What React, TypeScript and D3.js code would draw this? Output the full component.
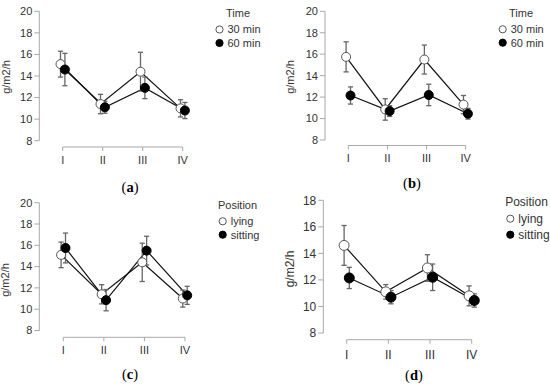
import * as d3 from 'd3';

const stages = ['I', 'II', 'III', 'IV'];
const timeNames = ['30 min', '60 min'];
const positionNames = ['lying', 'sitting'];

// panel (a): Time
const aMin30 = [15.1, 11.4, 14.4, 11.0];
const aMin30Err = [1.2, 0.9, 1.8, 0.8];
const aMin60 = [14.6, 11.1, 12.9, 10.8];
const aMin60Err = [1.5, 0.55, 1.0, 0.75];

// panel (b): Time
const bMin30 = [15.75, 10.85, 15.5, 11.3];
const bMin30Err = [1.4, 1.0, 1.35, 0.85];
const bMin60 = [12.15, 10.7, 12.2, 10.45];
const bMin60Err = [0.8, 0.5, 1.0, 0.5];

// panel (c): Position
const cLying = [15.1, 11.4, 14.4, 11.0];
const cLyingErr = [1.2, 0.9, 1.8, 0.8];
const cSitting = [15.75, 10.85, 15.5, 11.3];
const cSittingErr = [1.4, 1.0, 1.35, 0.85];

// panel (d): Position
const dLying = [14.6, 11.1, 12.9, 10.8];
const dLyingErr = [1.5, 0.55, 1.0, 0.75];
const dSitting = [12.15, 10.7, 12.2, 10.45];
const dSittingErr = [0.8, 0.5, 1.0, 0.5];

const yTicksFull = [8, 10, 12, 14, 16, 18, 20];
const yTicksShort = [8, 10, 12, 14, 16, 18];

type Layout = {
  axisX: number; xFirst: number; xLast: number;
  yTop: number; yBot: number; xAxisY: number; labelY: number;
  capX: number; capY: number; yLabX: number; yLabY: number;
  legX: number; legTitleX: number; legTitleY: number; legY1: number; legY2: number;
  dodge: number; r: number; font: number;
};

type Panel = {
  id: string;
  legendTitle: string;
  names: string[];
  series: { mean: number[]; err: number[]; filled: boolean }[];
  yDomain: [number, number];
  yTicks: number[];
  lay: Layout;
};

const panels: Panel[] = [
  {
    id: 'a', legendTitle: 'Time', names: timeNames,
    series: [
      { mean: aMin30, err: aMin30Err, filled: false },
      { mean: aMin60, err: aMin60Err, filled: true },
    ],
    yDomain: [8, 20], yTicks: yTicksFull,
    lay: {
      axisX: 39.3, xFirst: 62.7, xLast: 182.7, yTop: 11.3, yBot: 140.7, xAxisY: 147, labelY: 160,
      capX: 130, capY: 186.5, yLabX: 6, yLabY: 77,
      legX: 219.5, legTitleX: 238, legTitleY: 13, legY1: 29.5, legY2: 43,
      dodge: 2.2, r: 4.5, font: 11,
    },
  },
  {
    id: 'b', legendTitle: 'Time', names: timeNames,
    series: [
      { mean: bMin30, err: bMin30Err, filled: false },
      { mean: bMin60, err: bMin60Err, filled: true },
    ],
    yDomain: [8, 20], yTicks: yTicksFull,
    lay: {
      axisX: 325, xFirst: 348.3, xLast: 465.7, yTop: 11.3, yBot: 140, xAxisY: 145.5, labelY: 158,
      capX: 412, capY: 183, yLabX: 290, yLabY: 77,
      legX: 502.7, legTitleX: 521, legTitleY: 13, legY1: 29.3, legY2: 42.7,
      dodge: 2.2, r: 4.5, font: 11,
    },
  },
  {
    id: 'c', legendTitle: 'Position', names: positionNames,
    series: [
      { mean: cLying, err: cLyingErr, filled: false },
      { mean: cSitting, err: cSittingErr, filled: true },
    ],
    yDomain: [8, 20], yTicks: yTicksFull,
    lay: {
      axisX: 39.3, xFirst: 63.3, xLast: 185, yTop: 202.7, yBot: 330.5, xAxisY: 337.3, labelY: 350,
      capX: 130, capY: 373.5, yLabX: 5, yLabY: 280,
      legX: 222.7, legTitleX: 237.5, legTitleY: 205.3, legY1: 221.3, legY2: 234.7,
      dodge: 2.2, r: 4.5, font: 11,
    },
  },
  {
    id: 'd', legendTitle: 'Position', names: positionNames,
    series: [
      { mean: dLying, err: dLyingErr, filled: false },
      { mean: dSitting, err: dSittingErr, filled: true },
    ],
    yDomain: [8, 18], yTicks: yTicksShort,
    lay: {
      axisX: 323.3, xFirst: 346.7, xLast: 471.7, yTop: 200.3, yBot: 333, xAxisY: 339.7, labelY: 355,
      capX: 414, capY: 375, yLabX: 290, yLabY: 269,
      legX: 510.3, legTitleX: 526.5, legTitleY: 202, legY1: 218.7, legY2: 234.7,
      dodge: 2.6, r: 5, font: 12,
    },
  },
];

const axisColor = '#a8a8a8';
const textColor = '#333';
const barColor = '#666';
const sans = '"Liberation Sans", Arial, sans-serif';
const serif = '"Liberation Serif", "Times New Roman", serif';

const PanelView = ({ p }: { p: Panel }) => {
  const L = p.lay;
  const x = d3.scalePoint<string>().domain(stages).range([L.xFirst, L.xLast]);
  const y = d3.scaleLinear().domain(p.yDomain).range([L.yBot, L.yTop]);
  const line = d3.line<[number, number]>().x((d) => d[0]).y((d) => d[1]);
  const offsets = [-L.dodge, L.dodge];
  const cap = 2.6;

  return (
    <g>
      {/* y axis */}
      <line x1={L.axisX} x2={L.axisX} y1={y(p.yDomain[0])} y2={y(p.yDomain[1])} stroke={axisColor} />
      {p.yTicks.map((t) => (
        <g key={t}>
          <line x1={L.axisX - 5} x2={L.axisX} y1={y(t)} y2={y(t)} stroke={axisColor} />
          <text x={L.axisX - 7} y={y(t)} dy="0.35em" textAnchor="end" fontSize={L.font} fill={textColor}>{t}</text>
        </g>
      ))}
      <text transform={`translate(${L.yLabX},${L.yLabY}) rotate(-90)`} textAnchor="middle" dy="0.35em"
        fontSize={L.font} fill={textColor}>g/m2/h</text>

      {/* x axis */}
      <line x1={x(stages[0])!} x2={x(stages[stages.length - 1])!} y1={L.xAxisY} y2={L.xAxisY} stroke={axisColor} />
      {stages.map((s) => (
        <g key={s}>
          <line x1={x(s)!} x2={x(s)!} y1={L.xAxisY} y2={L.xAxisY + 4} stroke={axisColor} />
          <text x={x(s)!} y={L.labelY} dy="0.35em" textAnchor="middle" fontSize={L.font} fill={textColor}>{s}</text>
        </g>
      ))}

      {/* lines */}
      {p.series.map((s, si) => (
        <path key={si}
          d={line(s.mean.map((v, i) => [x(stages[i])! + offsets[si], y(v)] as [number, number]))!}
          fill="none" stroke="#111" strokeWidth={1.2} />
      ))}

      {/* error bars */}
      {p.series.map((s, si) => s.mean.map((v, i) => {
        const cx = x(stages[i])! + offsets[si];
        const y1 = y(v + s.err[i]);
        const y2 = y(v - s.err[i]);
        return (
          <g key={`${si}-${i}`} stroke={barColor} strokeWidth={1.3}>
            <line x1={cx} x2={cx} y1={y1} y2={y2} />
            <line x1={cx - cap} x2={cx + cap} y1={y1} y2={y1} />
            <line x1={cx - cap} x2={cx + cap} y1={y2} y2={y2} />
          </g>
        );
      }))}

      {/* points */}
      {p.series.map((s, si) => s.mean.map((v, i) => (
        <circle key={`${si}-${i}`} cx={x(stages[i])! + offsets[si]} cy={y(v)} r={L.r}
          fill={s.filled ? '#000' : '#fff'} stroke={s.filled ? '#000' : '#555'} strokeWidth={1} />
      )))}

      {/* legend */}
      <text x={L.legTitleX} y={L.legTitleY} dy="0.35em" textAnchor="middle" fontSize={L.font} fill={textColor}>{p.legendTitle}</text>
      {p.names.map((n, i) => {
        const ly = i === 0 ? L.legY1 : L.legY2;
        return (
          <g key={n}>
            <circle cx={L.legX} cy={ly} r={3.6} fill={p.series[i].filled ? '#000' : '#fff'}
              stroke={p.series[i].filled ? '#000' : '#555'} strokeWidth={1} />
            <text x={L.legX + 8} y={ly} dy="0.35em" fontSize={L.font} fill={textColor}>{n}</text>
          </g>
        );
      })}

      {/* caption */}
      <text x={L.capX} y={L.capY} dy="0.35em" textAnchor="middle" fontFamily={serif} fontSize={14.5} fill="#000">
        (<tspan fontWeight="bold">{p.id}</tspan>)
      </text>
    </g>
  );
};

export default function App() {
  return (
    <svg width={550} height={384} viewBox="0 0 550 384"
      style={{ position: 'absolute', left: 0, top: 0, background: '#fff', fontFamily: sans }}>
      <rect width={550} height={384} fill="#fff" />
      {panels.map((p) => <PanelView key={p.id} p={p} />)}
    </svg>
  );
}
